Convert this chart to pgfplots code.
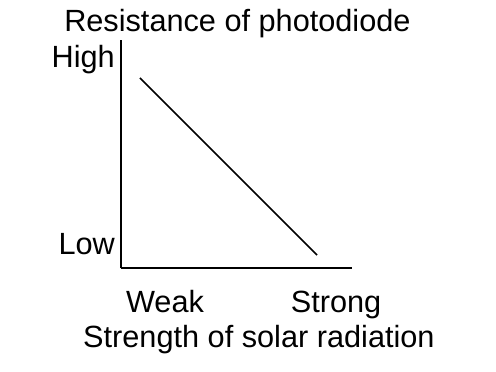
\documentclass[border=0pt]{standalone}
\usepackage{fontspec}
\setmainfont{Liberation Sans}
\usepackage{pgfplots}
\pgfplotsset{compat=1.18}
\begin{document}
\begin{tikzpicture}
\useasboundingbox (0,0) rectangle (496bp,372bp);
\begin{axis}[
  at={(121bp,104bp)}, anchor=south west,
  scale only axis, width=231bp, height=228bp,
  xmin=0, xmax=231, ymin=0, ymax=228,
  axis lines*=left,
  axis line style={line width=1.6bp, black},
  clip=false,
  major tick length=0pt,
  xtick={44,215}, xticklabels={Weak,Strong},
  ytick={14,200}, yticklabels={Low,High},
  xticklabel style={anchor=base, yshift=-44bp, inner sep=0pt},
  yticklabel style={anchor=base east, xshift=-6bp, inner sep=0pt},
  every tick label/.append style={font=\fontsize{30.8}{36}\selectfont},
  title={Resistance of photodiode},
  title style={at={(rel axis cs:0.504,1.013)}, anchor=base, inner sep=0pt, font=\fontsize{30.8}{36}\selectfont},
  xlabel={Strength of solar radiation},
  xlabel style={at={(rel axis cs:0.597,-0.3465)}, anchor=base, inner sep=0pt, font=\fontsize{30.8}{36}\selectfont},
]
\addplot[black, line width=1.6bp, no marks] coordinates {(19,190) (196,13)};
\end{axis}
\end{tikzpicture}
\end{document}
